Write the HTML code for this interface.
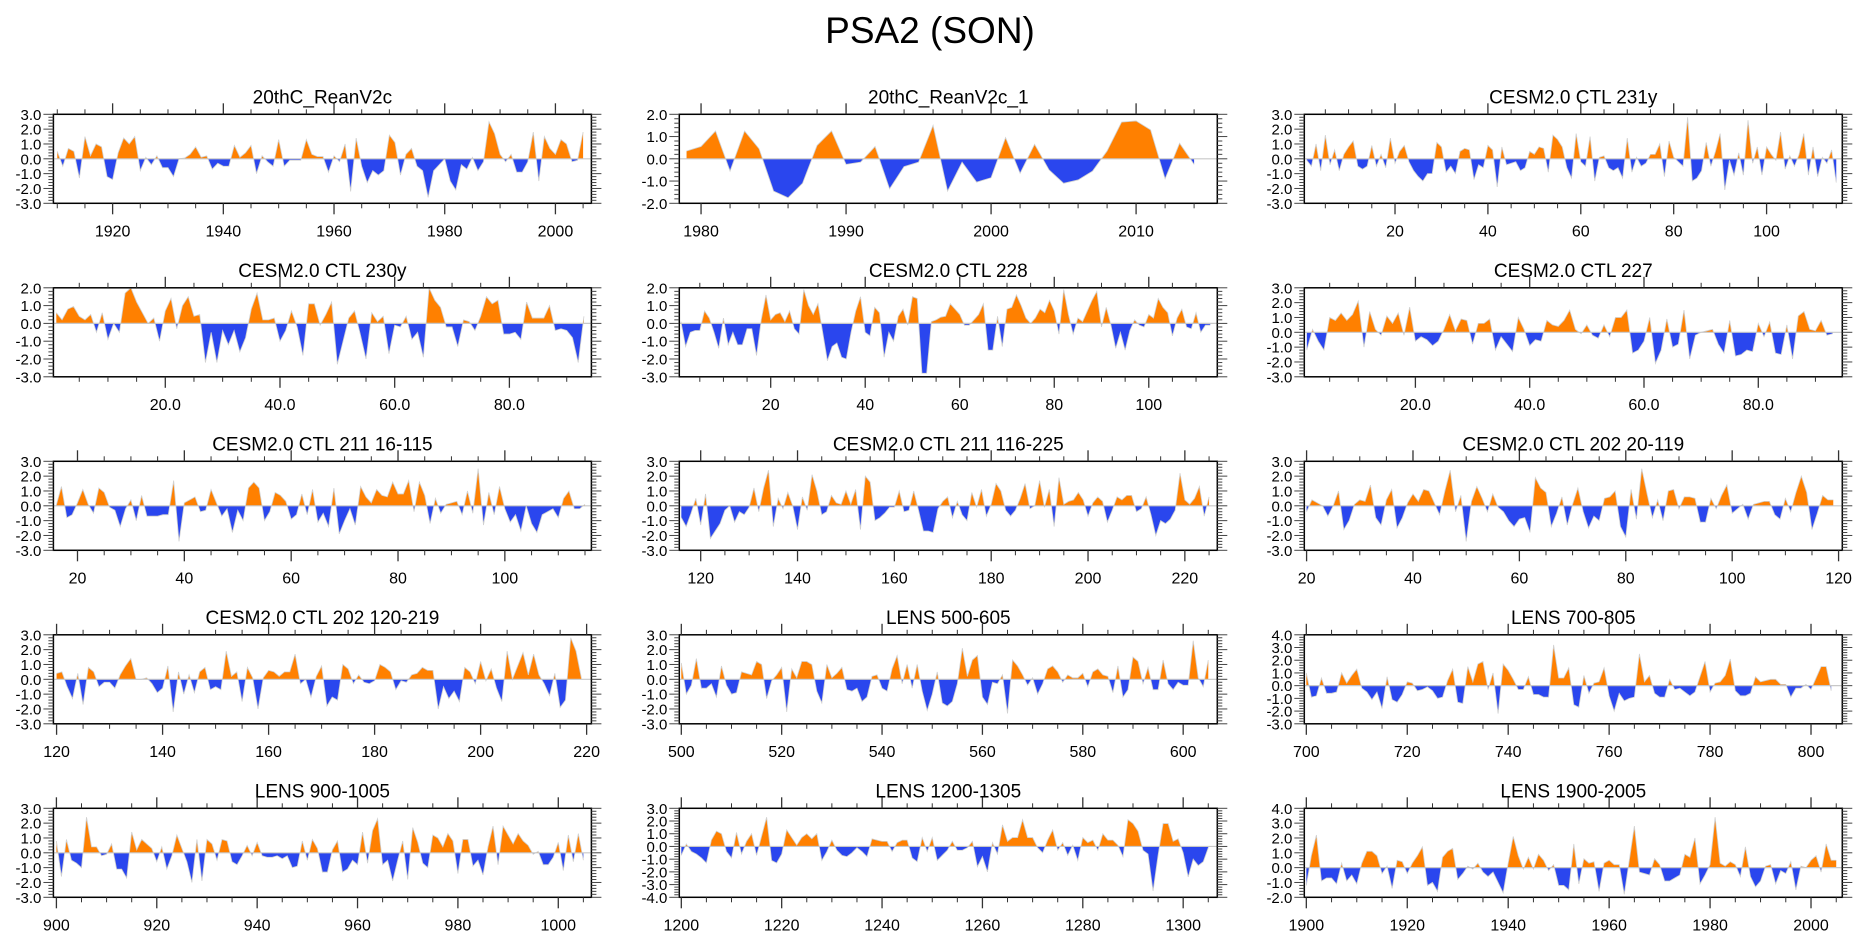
<!DOCTYPE html>
<html><head><meta charset="utf-8"><title>PSA2 (SON)</title>
<style>
html,body{margin:0;padding:0;background:#fff;}
svg{display:block;font-family:"Liberation Sans",Arial,sans-serif;}
</style></head>
<body>
<svg id="chart" width="1861" height="937" viewBox="0 0 1861 937" xmlns="http://www.w3.org/2000/svg">
<rect x="0" y="0" width="1861" height="937" fill="#fff"/>
<text x="930" y="43" font-size="37" text-anchor="middle" fill="#000">PSA2 (SON)</text>
</svg>
<script>
const titles = ["20thC_ReanV2c","20thC_ReanV2c_1","CESM2.0 CTL 231y","CESM2.0 CTL 230y","CESM2.0 CTL 228","CESM2.0 CTL 227","CESM2.0 CTL 211 16-115","CESM2.0 CTL 211 116-225","CESM2.0 CTL 202 20-119","CESM2.0 CTL 202 120-219","LENS 500-605","LENS 700-805","LENS 900-1005","LENS 1200-1305","LENS 1900-2005"];
const startYears = [1910,1979,1,1,1,1,16,116,20,120,500,700,900,1200,1900];
const xMins = [1909.3,1978.5,0.47,0.49,0.66,0.56,15.49,115.58,19.57,119.4,499.6,699.6,899.4,1199.6,1899.6];
const xMaxs = [2006.5,2015.6,116.3,94.3,114.5,94.7,116.2,226.7,120.7,220.9,606.8,806.2,1006.6,1306.8,2006.2];
const yMins = [-3,-2,-3,-3,-3,-3,-3,-3,-3,-3,-3,-3,-3,-4,-2];
const yMaxs = [3,2,3,2,2,3,3,3,3,3,3,4,3,3,4];
const majorSteps = [20,10,20,20,20,20,20,20,20,20,20,20,20,20,20];
const minorSteps = [5,2,5,5,5,5,5,5,5,5,5,5,5,5,5];
const decimalLabels = [false,false,false,true,false,true,false,false,false,false,false,false,false,false,false];

const s1 = [0.5,-0.5,0.7,0.5,-1.3,1.5,0.2,1.0,0.8,-1.2,-1.4,0.4,1.4,1.0,1.5,-0.8,0.1,-0.4,0.2,-0.6,-0.6,-1.2,0.0,0.05,0.3,0.8,0.1,0.2,-0.7,-0.3,-0.5,-0.5,0.9,0.1,0.4,0.9,-1.0,0.2,-0.2,-0.5,1.3,-0.5,-0.1,-0.1,-0.1,1.3,0.3,0.15,0.15,-0.9,0.2,-0.2,1.0,-2.2,1.4,-0.5,-1.6,-0.8,-1.1,-0.8,1.6,1.1,-1.1,0.3,0.7,-0.5,-0.8,-2.6,-0.8,-0.4,0.0,-1.5,-2.1,-0.4,-0.7,0.1,-0.8,-0.2,2.5,1.7,0.3,-0.2,0.3,-0.9,-0.9,-0.2,1.8,-1.5,1.5,0.7,0.3,1.3,1.0,-0.2,-0.1,1.8];
const s2 = [0.35,0.55,1.25,-0.55,1.25,0.45,-1.45,-1.75,-1.1,0.6,1.25,-0.25,-0.15,0.55,-1.35,-0.35,-0.15,1.5,-1.45,-0.15,-1.05,-0.85,0.95,-0.65,0.65,-0.5,-1.1,-0.95,-0.55,0.35,1.65,1.7,1.3,-0.9,0.7,-0.25];
const s3 = [-0.1,-0.5,1.0,-0.8,1.6,-0.4,0.6,-0.8,0.3,0.8,1.2,-0.5,-0.7,-0.5,0.9,-0.5,0.3,-0.6,1.4,-0.3,0.5,0.9,-0.2,-0.8,-1.2,-1.5,-1.0,-1.0,1.1,0.8,-0.9,-0.5,-1.0,0.5,0.7,0.6,-1.4,-0.4,-0.6,0.9,0.6,-1.9,0.8,-0.4,-0.3,-0.2,-0.8,-0.6,0.5,0.3,0.8,0.7,-0.9,1.6,1.3,0.8,-0.6,-1.3,1.7,-0.2,-0.5,1.5,-1.5,0.1,0.2,-0.6,-0.8,-0.6,-1.3,1.4,-0.9,0.1,-0.5,-0.3,0.3,0.3,1.0,-1.2,1.2,0.1,-0.2,-0.5,2.8,-1.5,-1.3,-0.8,1.1,-0.5,0.5,1.7,-2.1,-0.1,-1.1,0.4,-1.1,2.6,-0.3,0.8,-1.1,0.8,0.3,-0.1,1.8,-0.7,0.2,-0.5,0.3,1.7,-1.1,0.8,-1.2,0.1,-0.3,0.6,-1.6];
const s4 = [0.6,0.2,0.8,0.95,0.4,0.2,0.5,-0.5,0.6,-0.9,0,-0.5,1.7,2.0,1.2,0.6,0.0,0.3,-1.0,0.7,1.4,-0.3,1.0,1.5,0.4,0.5,-2.2,-0.5,-2.2,-0.4,-1.2,-0.4,-1.6,-0.8,0.8,1.7,0.2,0.2,0.3,-1.0,-0.4,0.7,-0.2,-1.8,1.1,1.1,-0.1,0.5,1.2,-2.3,-1.0,0.3,0.7,-0.6,-2.0,0.6,0.1,0.4,-1.7,-0.1,-0.2,0.4,-0.9,-0.5,-1.9,2.0,1.3,0.9,-0.2,-0.2,-1.3,0.2,0.1,-0.4,0.4,1.5,1.1,1.3,-0.6,-0.6,-0.5,-0.9,1.2,0.3,0.3,0.3,1.0,-0.4,-0.3,-0.4,-0.8,-2.2,0.4];
const s5 = [0.1,-1.3,-0.5,-0.4,-0.4,0.7,0.3,-0.5,-1.4,0.3,-1.2,-0.5,-1.2,-1.2,-0.3,-0.3,-1.8,0.2,1.6,0.2,0.5,0.6,0.1,0.7,-0.3,-0.6,1.9,1.0,0.5,1.1,-0.5,-2.1,-1.3,-1.1,-1.9,-2.0,-0.5,0.7,1.5,-0.5,-0.7,0.9,0.6,-1.9,-0.5,-1.0,0.4,0.8,-0.1,1.5,1.4,-2.8,-2.8,0.1,0.2,0.35,0.4,1.1,0.8,0.5,-0.1,-0.1,0.2,0.5,1.1,-1.5,-1.5,0.4,-1.3,0.8,0.9,1.6,1.0,0.3,0.0,0.3,0.8,0.6,1.3,0.7,-0.6,1.9,0.5,-0.6,0.3,0.1,0.7,1.3,1.8,-0.2,0.9,-0.1,-1.4,-0.5,-1.5,-0.4,0.2,-0.1,-0.2,0.5,0.3,1.4,0.9,0.6,-0.7,0.3,0.8,-0.2,-0.3,0.6,-0.5,-0.1,-0.1];
const s6 = [-1.2,0.2,-0.6,-1.2,1.0,0.8,1.3,0.8,1.2,2.1,-1.0,1.4,0.2,-0.2,1.1,0.6,1.3,-0.2,1.7,-0.6,-0.3,-0.5,-0.9,-0.6,0.2,1.2,0.1,0.9,0.8,-0.8,0.6,0.6,0.9,-1.2,-0.3,-0.8,-1.3,1.0,0.2,-0.9,-0.5,-0.6,0.8,0.5,0.4,0.8,1.5,0.2,-0.1,0.5,-0.2,-0.4,0.5,-0.3,1.0,1.0,1.5,-1.4,-1.2,-0.6,1.0,-2.1,-1.2,0.9,-1.0,-0.8,1.5,-1.8,-0.2,0.0,0.1,0.2,-0.8,-1.4,0.8,-1.6,-1.5,-1.2,-1.3,0.6,-0.3,0.7,-1.4,-1.5,0.5,-1.8,1.1,1.4,0.2,0.1,0.8,-0.2,-0.1];
const s7 = [0.0,1.3,-0.8,-0.6,0.2,1.1,0.1,-0.5,1.2,0.9,-0.1,-0.3,-1.4,-0.2,0.4,-1.0,0.7,-0.7,-0.7,-0.7,-0.6,-0.6,1.7,-2.4,0.2,0.4,0.6,-0.4,-0.3,1.1,0.2,-0.7,-0.2,-1.8,-0.3,-1.0,1.2,1.6,1.2,-1.0,-0.4,0.9,0.7,0.3,-0.9,-0.6,0.8,-0.6,1.1,-1.1,-0.5,-1.4,1.2,-1.9,-1.0,-0.2,-1.3,1.3,0.6,0.2,1.1,0.7,0.6,1.6,0.8,0.8,1.7,-0.4,1.6,0.7,-1.2,0.5,-0.5,0.1,0.2,0.3,-0.6,1.0,-0.5,2.5,-1.3,0.9,-0.6,1.3,-0.2,-1.1,-0.6,-1.7,0.0,-1.2,-1.8,-0.6,-0.4,-0.2,-0.8,0.5,1.0,-0.2,-0.2,0.1];
const s8 = [-0.8,-1.4,-0.5,0.5,-1.3,0.8,-2.2,-1.7,-1.2,-0.3,0.0,-1.1,-0.4,-0.6,-0.1,1.2,-0.4,1.2,2.4,-1.4,0.5,-0.2,0.9,0.0,-1.6,0.6,-0.3,2.1,1.0,-0.6,-0.4,0.7,0.2,0.1,1.0,0.1,1.1,-1.6,2.0,1.6,-1.0,-0.8,-0.5,-0.1,-0.1,1.0,-0.4,-0.3,1.0,-0.3,-1.7,-1.7,-1.8,-0.2,0.3,0.6,-0.8,0.3,-0.6,-1.0,0.9,-0.1,1.1,-0.7,0.1,1.5,1.0,-0.3,-0.7,-0.3,0.5,1.5,-0.2,0.0,1.7,-0.1,1.1,-1.4,1.9,0.1,0.3,0.4,0.9,0.4,-0.7,0.2,0.6,0.3,-1.1,-0.3,0.6,0.4,0.7,0.7,-0.4,-0.2,0.6,-0.6,-2.0,-1.0,-1.2,-0.9,-0.3,2.2,0.4,0.1,0.5,1.3,-0.7,0.6];
const s9 = [-0.4,0.4,0.2,0.0,-0.7,0.0,1.0,-1.6,-1.0,0.1,0.4,0.3,1.4,-0.8,-1.3,0.4,1.1,-1.5,-0.8,0.2,0.8,0.3,1.1,1.0,0.2,-0.6,1.0,2.4,-0.4,0.7,-2.4,0.3,1.3,0.5,-0.4,0.8,-0.1,-0.4,-1.0,-1.4,-0.9,-0.8,-1.8,1.9,1.2,0.9,-1.4,-0.5,0.6,-1.3,0.1,1.2,-0.4,-1.5,-0.7,-1.0,0.5,0.6,1.0,-1.4,-2.1,1.1,-0.9,2.5,0.8,-0.8,0.4,-1.0,1.0,1.1,-0.2,0.6,0.6,0.5,-1.1,-1.1,0.5,-0.2,0.7,1.4,-0.5,-0.2,0.1,-0.9,0.1,0.2,0.3,0.3,-0.6,-0.9,0.5,-0.4,0.9,2.0,0.9,-1.6,-0.5,0.7,0.4,0.4];
const s10 = [0.4,0.5,-0.5,-1.3,0.4,-1.7,0.8,0.5,-0.5,-0.2,-0.2,-0.6,0.3,0.9,1.4,0.0,0.0,0.1,-0.3,-0.9,-0.6,0.9,-2.2,0.5,-1.0,0.3,-0.9,0.5,0.8,-0.7,-0.5,-0.7,1.9,0.2,0.5,-1.5,0.8,0.1,-2.0,0.1,0.6,0.5,0.2,0.5,0.5,1.7,-0.3,0.0,-1.2,0.2,0.9,-1.8,-1.2,-1.4,1.0,0.7,-0.3,0.3,-0.2,-0.3,-0.1,1.0,0.8,0.5,-0.7,-0.1,-0.2,0.3,0.4,0.8,0.6,0.6,-2.0,-0.5,-1.3,-0.8,-1.5,0.8,0.5,-0.3,1.2,-0.1,0.7,-0.6,-1.5,1.9,0.0,0.9,1.8,0.3,1.7,0.3,-0.3,-1.1,0.4,-1.9,-1.4,2.8,1.9,0.1];
const s11 = [1.1,-1.0,-0.4,1.4,-0.6,-0.6,-0.3,-1.2,0.9,-0.4,-1.0,-0.9,0.5,0.4,0.3,1.2,1.0,-1.3,-0.1,0.3,0.8,-2.2,0.7,0.1,1.2,1.2,1.0,-0.8,-1.6,1.0,0.1,0.4,0.8,-0.7,-0.8,-0.6,-1.5,-1.2,0.2,0.3,-0.6,-0.8,0.7,1.6,-0.3,1.0,-0.6,1.0,-0.8,-2.1,-1.0,0.5,-1.6,-1.8,-1.5,-0.3,2.1,0.2,1.3,1.6,-1.2,-1.7,-0.2,-0.3,0.3,-2.3,1.3,0.9,0.3,-0.4,0.1,-1.0,-0.3,0.7,0.9,0.5,-0.2,0.3,0.1,0.1,0.4,-0.5,0.5,0.7,0.3,0.2,-0.9,0.9,-1.2,-0.7,1.5,1.2,-0.3,0.8,-0.7,-0.7,1.3,-0.3,-0.7,-0.2,-0.4,-0.4,2.6,0.1,-0.5,1.3];
const s12 = [1.0,-0.9,-0.8,0.6,-0.6,-0.6,-0.5,1.0,0.2,0.8,1.3,-0.2,-0.5,-1.1,-0.5,-1.8,0.7,-1.1,-1.3,-0.7,0.3,0.2,-0.4,-0.3,-0.1,-0.4,-1.0,-0.9,0.4,1.3,-1.3,-1.4,1.5,0.3,1.7,1.9,-0.3,1.0,-2.2,1.7,1.2,0.5,-0.3,-0.3,0.7,-0.7,-0.7,-0.9,-0.9,3.2,0.6,0.6,1.4,-1.5,-1.7,0.8,-0.6,0.2,0.3,1.4,-0.8,-2.0,-0.6,-1.2,-1.0,-0.9,2.5,0.3,0.8,-0.6,-0.9,-0.9,0.5,-0.3,-0.2,-0.5,-0.8,-0.5,0.7,1.9,-0.5,0.2,0.3,0.8,2.1,-0.4,-0.8,-0.8,-0.6,0.7,0.3,0.4,0.5,0.5,0.1,0.1,-0.9,-0.2,-0.2,0.1,-0.3,0.6,1.5,1.5,-0.4];
const s13 = [0.8,-1.6,0.9,-0.5,-0.7,-1.0,2.4,0.4,0.4,-0.2,-0.1,0.6,-1.1,-1.1,-1.7,1.4,0.2,0.9,0.6,0.3,-0.6,0.4,-1.1,-0.2,1.2,0.3,-0.6,-2.0,0.9,-1.9,0.9,0.6,-0.5,0.9,0.8,-0.6,-0.8,-0.2,0.5,-0.2,0.7,-0.2,-0.3,-0.3,-0.2,-0.4,-0.2,-1.0,-0.9,0.8,-0.5,0.9,0.3,-1.3,-1.3,0.2,0.8,-1.3,-1.1,-0.5,-0.8,1.4,-0.7,1.5,2.3,-0.8,-0.5,-1.9,-0.5,0.8,-1.8,1.7,0.7,-0.7,-1.0,1.2,1.0,0.4,1.3,0.8,-1.4,0.9,0.9,-0.9,-0.5,-1.5,0.4,1.8,-0.8,1.8,1.2,0.6,1.3,0.8,0.5,-0.1,0.1,-0.8,-0.8,-0.3,0.7,-1.2,1.2,-0.6,1.3,-0.5];
const s14 = [-0.7,0.2,-0.4,-0.6,-0.9,-1.3,0.5,1.2,1.0,-0.4,-0.9,1.1,-0.6,0.4,1.0,-0.7,0.8,2.3,-1.1,-1.3,-0.6,1.3,0.7,0.1,0.7,1.0,0.6,1.0,-1.1,-0.4,0.5,-0.3,-0.7,-0.8,-0.5,-0.1,-0.4,-0.8,0.6,0.5,0.4,0.4,-0.4,0.3,0.5,0.5,-0.9,-1.2,0.7,-0.4,0.7,-1.1,-0.7,-0.3,0.4,-0.3,-0.3,-0.1,0.4,-1.6,-0.8,-2.0,0.3,-0.6,1.7,0.4,0.7,0.7,2.1,0.7,0.7,-0.1,-0.5,0.5,1.3,-0.3,0.3,-0.7,0.1,-1.1,0.7,0.3,0.5,-0.3,1.0,0.5,0.5,0.1,-0.8,2.1,1.8,1.2,-0.3,-0.6,-3.5,-0.7,1.8,1.8,0.4,0.6,-0.5,-2.4,-1.0,-1.5,-1.2,-0.1];
const s15 = [-1.2,0.8,2.2,-0.9,-0.7,-0.7,-1.1,0.3,-0.9,-0.5,-1.1,0.3,1.1,1.1,0.8,-0.4,0.1,-1.4,0.5,0.4,-0.4,0.3,0.8,1.4,-1.2,-1.0,-1.6,0.7,1.1,1.3,-0.8,-0.4,0.1,-0.1,0.3,-0.3,-0.6,-0.3,-1.0,-1.7,0.3,2.1,0.8,-0.1,0.7,-0.1,0.9,0.5,-0.2,0.2,-1.2,-1.2,-1.5,1.6,-1.1,0.6,0.3,0.4,-1.6,0.3,0.5,0.2,0.2,-1.8,0.5,2.8,-0.3,-0.4,-0.5,0.6,0.2,-0.9,-0.9,-0.7,-0.5,0.9,0.7,2.0,-1.1,-0.5,0.2,3.4,0.3,0.1,0.4,0.2,-0.6,1.4,-0.6,-1.3,-0.9,0.1,0.2,-1.1,-0.2,-0.4,0.4,-1.5,0.1,0.0,0.5,0.8,-0.3,1.6,0.5,0.5];
const allSeries = [s1,s2,s3,s4,s5,s6,s7,s8,s9,s10,s11,s12,s13,s14,s15];

const NS = "http://www.w3.org/2000/svg";
const svg = document.getElementById("chart");
const colLeft = [53.4, 679.3, 1304.3];
const W = 538, H = 89;
function mk(tag, attrs, parent){
  const e = document.createElementNS(NS, tag);
  for (const k in attrs) e.setAttribute(k, attrs[k]);
  (parent||svg).appendChild(e);
  return e;
}
for (let p = 0; p < 15; p++) {
  const r = Math.floor(p/3), c = p%3;
  const L = colLeft[c], T = 114.3 + 173.5*r, R = L+W, B = T+H;
  const xmin = xMins[p], xmax = xMaxs[p], ymin = yMins[p], ymax = yMaxs[p];
  const xs = v => L + (v - xmin) / (xmax - xmin) * W;
  const ys = v => T + (ymax - v) / (ymax - ymin) * H;
  const g = mk("g", {});
  
  
  const data = allSeries[p];
  const y0 = ys(0);
  let d = "M" + xs(startYears[p]).toFixed(2) + "," + y0.toFixed(2);
  let ln = "";
  data.forEach((v,i) => {
    const X = xs(startYears[p]+i).toFixed(2), Y = ys(v).toFixed(2);
    d += " L" + X + "," + Y;
    ln += (i ? " L" : "M") + X + "," + Y;
  });
  d += " L" + xs(startYears[p]+data.length-1).toFixed(2) + "," + y0.toFixed(2) + " Z";
  const defs = mk("defs", {}, g);
  const ca = mk("clipPath", {id:"ca"+p}, defs);
  mk("rect", {x:L, y:T-2, width:W, height:y0-T+2}, ca);
  const cb = mk("clipPath", {id:"cb"+p}, defs);
  mk("rect", {x:L, y:y0, width:W, height:B-y0+2}, cb);
  const pos = mk("path", {d:d, fill:"#ff8000", "clip-path":"url(#ca"+p+")"}, g);
  
  
  const neg = mk("path", {d:d, fill:"#2a46ee", "clip-path":"url(#cb"+p+")"}, g);
  
  
  const line = mk("path", {d:ln, fill:"none", stroke:"#d0d0d0", "stroke-width":0.8}, g);
  
  
  const zl = mk("line", {x1:L, x2:R, y1:y0, y2:y0, stroke:"#c8c8c8", "stroke-width":1.2}, g);
  
  
  const frame = mk("rect", {x:L, y:T, width:W, height:H, fill:"none", stroke:"#000", "stroke-width":1.5}, g);
  
  
  const mi = minorSteps[p], ma = majorSteps[p];
  for (let v = Math.ceil(xmin/mi)*mi; v <= xmax; v += mi) {
    const X = xs(v);
    const major = (Math.round(v) % ma === 0);
    const len = major ? 11 : 5;
    mk("line", {x1:X, x2:X, y1:T, y2:T-len, stroke:"#333", "stroke-width":major?1.3:1}, g);
    mk("line", {x1:X, x2:X, y1:B, y2:B+len, stroke:"#333", "stroke-width":major?1.3:1}, g);
    if (major) {
      const t = mk("text", {x:X, y:B+33, "font-size":16, "text-anchor":"middle", fill:"#000"}, g);
      
      
      t.textContent = decimalLabels[p] ? v.toFixed(1) : String(v);
    }
  }
  for (let k = Math.round(ymin*5); k <= Math.round(ymax*5); k++) {
    const v = k/5, Y = ys(v);
    const major = (k % 5 === 0);
    const len = major ? 10 : 5;
    mk("line", {x1:L, x2:L-len, y1:Y, y2:Y, stroke:"#444", "stroke-width":1}, g);
    mk("line", {x1:R, x2:R+len, y1:Y, y2:Y, stroke:"#444", "stroke-width":1}, g);
    if (major) {
      const t = mk("text", {x:L-12, y:Y+5.5, "font-size":15, "text-anchor":"end", fill:"#000"}, g);
      
      
      t.textContent = v.toFixed(1);
    }
  }
  const tt = mk("text", {x:L+W/2, y:T-11, "font-size":19, "text-anchor":"middle", fill:"#000"}, g);
  
  
  tt.textContent = titles[p];
}
</script>
</body></html>
